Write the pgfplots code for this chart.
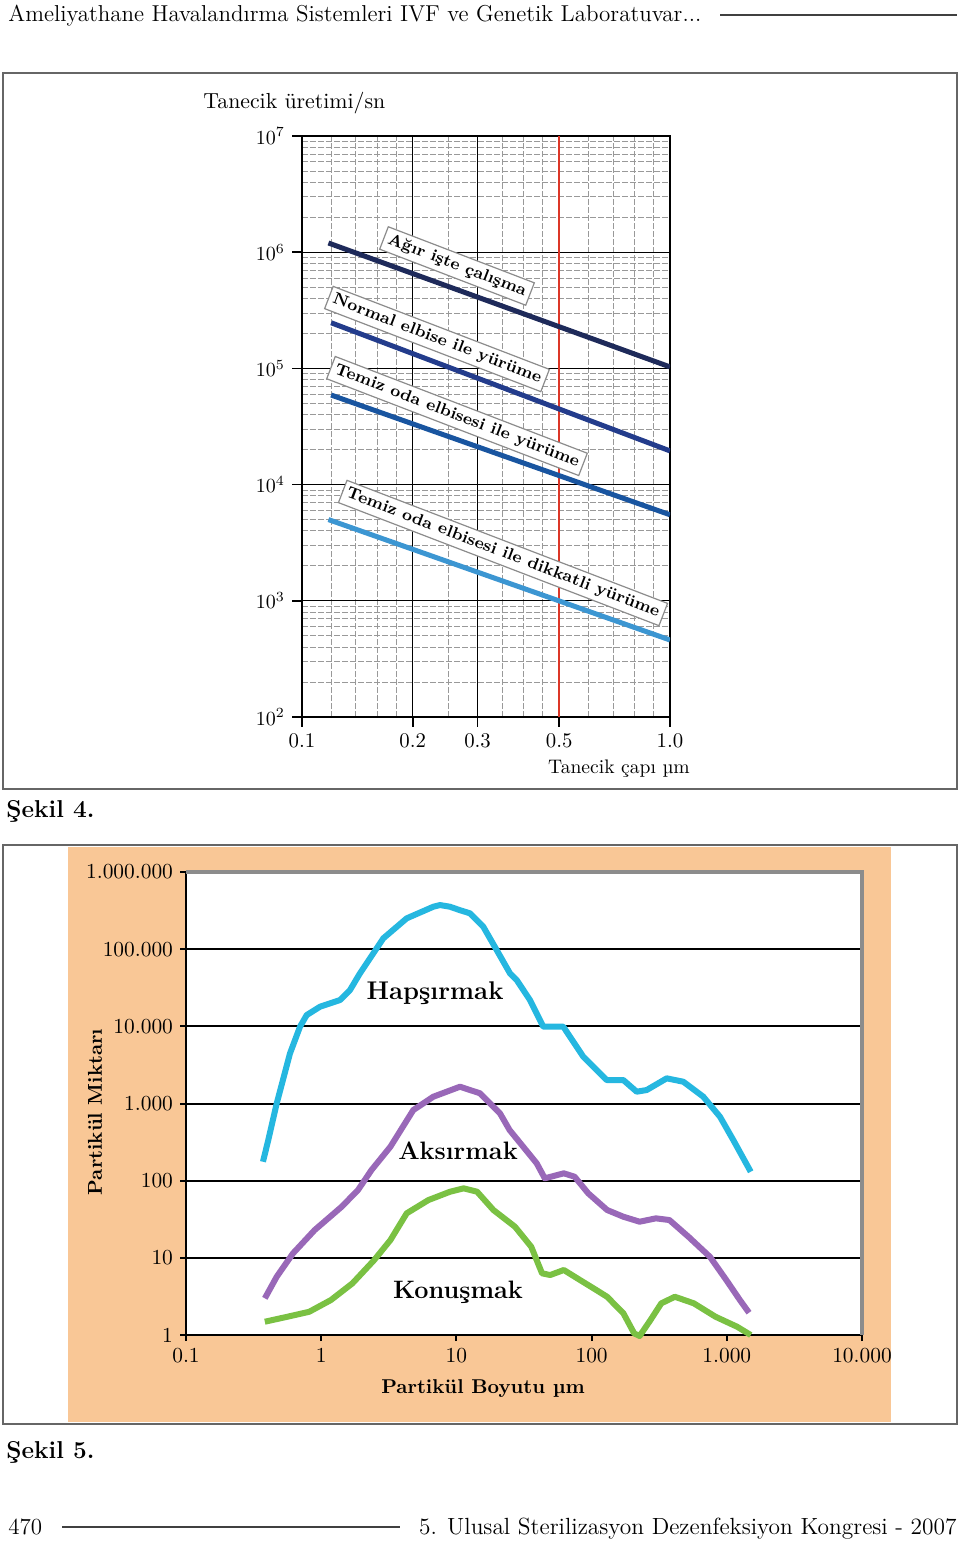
\documentclass[border=0pt]{standalone}
\usepackage{pgfplots}
\pgfplotsset{compat=1.18}
\definecolor{agir}{HTML}{1E2A5A}
\definecolor{normal}{HTML}{233C8C}
\definecolor{temiz}{HTML}{1955A0}
\definecolor{dikkat}{HTML}{3C96D2}
\definecolor{redline}{RGB}{220,55,40}
\definecolor{orangebg}{RGB}{249,199,150}
\definecolor{hap}{RGB}{37,183,224}
\definecolor{aks}{RGB}{153,104,184}
\definecolor{kon}{RGB}{122,193,67}
\begin{document}
\begin{tikzpicture}
\begin{scope}[x=0.5pt,y=-0.5pt]
\path[use as bounding box] (0,0) rectangle (960,1542);
\fill[white] (0,0) rectangle (960,1542);
\node[anchor=base west, inner sep=0, font=\fontsize{11.5}{13}\selectfont] at (8,21) {Ameliyathane Havalandırma Sistemleri IVF ve Genetik Laboratuvar...};
\draw[line width=0.7pt, black!75] (720,15) -- (957,15);
\draw[black!60, line width=0.6pt] (3,73) rectangle (957,789);
\draw[black!60, line width=0.6pt] (3,845) rectangle (957,1424);
\fill[orangebg] (68,847) rectangle (891,1422);
\node[anchor=base west, inner sep=0, font=\fontsize{12.2}{13}\selectfont\bfseries] at (6,817) {Şekil 4.};
\node[anchor=base west, inner sep=0, font=\fontsize{12.2}{13}\selectfont\bfseries] at (6,1458) {Şekil 5.};
\node[anchor=base west, inner sep=0, font=\fontsize{11.5}{13}\selectfont] at (8,1534) {470};
\draw[line width=0.7pt, black!75] (62,1527) -- (400,1527);
\node[anchor=base east, inner sep=0, font=\fontsize{11.7}{13}\selectfont] at (957,1534) {5. Ulusal Sterilizasyon Dezenfeksiyon Kongresi - 2007};
\end{scope}

% ---------- Sekil 4 ----------
\begin{axis}[
  at={(151pt,-358.5pt)}, anchor=south west,
  scale only axis, width=184pt, height=290.5pt,
  xmode=log, ymode=log, xmin=0.1, xmax=1, ymin=100, ymax=1e7,
  xtick={0.1,0.2,0.3,0.5,1}, xticklabels={0.1,0.2,0.3,0.5,1.0},
  minor xtick={0.12,0.14,0.16,0.18,0.25,0.35,0.4,0.45,0.6,0.7,0.8,0.9},
  ytick={1e2,1e3,1e4,1e5,1e6,1e7},
  minor ytick={200,300,400,500,600,700,800,900,2000,3000,4000,5000,6000,7000,8000,9000,20000,30000,40000,50000,60000,70000,80000,90000,200000,300000,400000,500000,600000,700000,800000,900000,2000000,3000000,4000000,5000000,6000000,7000000,8000000,9000000},
  grid=both,
  major grid style={black, line width=0.5pt},
  minor grid style={black!40, dash pattern=on 3pt off 1pt, line width=0.4pt},
  tick pos=left, tick align=outside, major tick length=5pt, minor tick length=0pt,
  tick style={black, line width=0.8pt},
  axis line style={black, line width=1pt},
  ticklabel style={font=\fontsize{10.4}{12}\selectfont},
]
\addplot[redline, line width=1pt] coordinates {(0.5,100) (0.5,1e7)};
\addplot[agir, line width=2.5pt] coordinates {(0.118,1.2e6) (1,1.03e5)};
\addplot[normal, line width=2.5pt] coordinates {(0.12,2.47e5) (1,1.95e4)};
\addplot[temiz, line width=2.5pt] coordinates {(0.12,5.9e4) (1,5.5e3)};
\addplot[dikkat, line width=2.5pt] coordinates {(0.118,5.0e3) (1,460)};
\end{axis}

% ---------- Sekil 5 ----------
\begin{axis}[
  at={(93pt,-667.5pt)}, anchor=south west,
  scale only axis, width=338pt, height=231.5pt,
  xmode=log, ymode=log, xmin=0.1, xmax=1e4, ymin=1, ymax=1e6,
  xtick={0.1,1,10,100,1000,10000}, xticklabels={0.1,1,10,100,1.000,10.000},
  ytick={1,10,100,1000,10000,100000}, yticklabels={1,10,100,1.000,10.000,100.000},
  extra y ticks={1000000}, extra y tick labels={1.000.000},
  extra y tick style={grid=none},
  ymajorgrids, major grid style={black, line width=1pt},
  tick pos=left, tick align=outside, major tick length=3pt, minor tick length=0pt,
  tick style={black, line width=1pt},
  axis background/.style={fill=white},
  axis line style={black, line width=1.2pt},
  ticklabel style={font=\fontsize{10.7}{12}\selectfont},
  clip=false,
]
\addplot[hap, line width=3pt, line join=round] coordinates {
(0.371,176) (0.406,336) (0.469,1006) (0.588,4470) (0.697,9890) (0.781,14000) (0.98,17960) (1.377,21930) (1.633,29560) (1.936,48640) (2.43,88350) (2.88,138300) (4.29,251000) (6.75,354800) (7.56,373300) (8.97,354800) (10.63,320000) (12.6,291700) (14.13,238800) (15.81,195400) (19.86,97500) (24.9,48640) (27.93,39850) (35.0,21930) (43.9,9890) (61.8,9890) (86.8,4040) (129.3,2015) (171.6,2015) (215.6,1422) (255.6,1496) (359.4,2120) (476.9,1916) (670,1225) (890.6,674) (1117,336) (1503,130.6)};
\addplot[aks, line width=3pt, line join=round] coordinates {
(0.383,2.99) (0.469,5.70) (0.619,11.45) (0.894,22.9) (1.418,46.0) (1.872,75.7) (2.355,137.4) (3.25,275.4) (4.80,823) (6.75,1225) (10.63,1651) (14.95,1356) (21.0,746) (24.75,453) (32.66,249.6) (39.26,167.9) (45.06,107.3) (62.3,124.6) (74.9,112.5) (94.4,68.6) (130.2,41.7) (171.9,34.1) (226.5,29.4) (299,32.5) (376.3,30.9) (520,18.8) (751,10.3) (991.5,5.16) (1250,2.84) (1460,1.945)};
\addplot[kon, line width=3pt, line join=round] coordinates {
(0.383,1.487) (0.563,1.726) (0.815,2.00) (1.18,2.84) (1.704,4.68) (2.466,9.37) (3.25,17.0) (4.29,37.8) (6.21,56.1) (8.97,71.9) (11.3,79.6) (14.23,71.9) (18.78,41.7) (27.13,25.3) (35.8,13.9) (43.0,6.30) (49.4,5.99) (62.3,6.96) (82.1,5.16) (108.3,3.83) (130.2,3.13) (171.9,1.91) (206.5,1.05) (226.5,0.97) (272.7,1.565) (327.7,2.575) (413,3.13) (570,2.575) (825,1.726) (1192,1.28) (1503,1.0)};
\draw[black!45, line width=1.6pt] (rel axis cs:0,1) -- (rel axis cs:1,1) -- (rel axis cs:1,0);
\end{axis}

\begin{scope}[x=0.5pt,y=-0.5pt]
% Sekil 4 texts
\node[anchor=west, inner sep=0, font=\fontsize{10.9}{12}\selectfont] at (203,103) {Tanecik üretimi/sn};
\node[inner sep=0, font=\fontsize{9.8}{12}\selectfont] at (619,769) {Tanecik çapı µm};
\tikzset{lbl/.style={draw=black!45, fill=white, line width=0.6pt, inner sep=2.3pt, rotate=-21, font=\fontsize{8.2}{10}\selectfont\bfseries}}
\node[lbl] at (457,266) {Ağır işte çalışma};
\node[lbl] at (437,339) {Normal elbise ile yürüme};
\node[lbl] at (457,416) {Temiz oda elbisesi ile yürüme};
\node[lbl] at (503,553) {Temiz oda elbisesi ile dikkatli yürüme};
% Sekil 5 texts
\node[font=\fontsize{12.8}{14}\selectfont\bfseries] at (435,993) {Hapşırmak};
\node[font=\fontsize{12.6}{14}\selectfont\bfseries] at (458,1151) {Aksırmak};
\node[font=\fontsize{12.6}{14}\selectfont\bfseries] at (458,1292) {Konuşmak};
\node[font=\fontsize{10}{12}\selectfont\bfseries] at (483,1389) {Partikül Boyutu µm};
\node[rotate=90, font=\fontsize{10}{12}\selectfont\bfseries] at (95,1112) {Partikül Miktarı};
\end{scope}
\end{tikzpicture}
\end{document}
